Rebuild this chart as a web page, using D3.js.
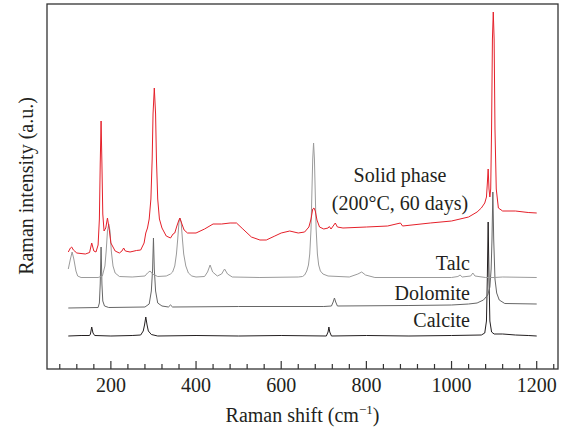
<!DOCTYPE html>
<html>
<head>
<meta charset="utf-8">
<script src="https://cdn.jsdelivr.net/npm/d3@7"></script>
<style>
body { margin: 0; background: #fff; }
text { font-family: "Liberation Serif", "DejaVu Serif", serif; fill: #231f20; }
</style>
</head>
<body>
<svg id="chart" width="564" height="430"></svg>
<script>
// spectra: [Raman shift, stacked intensity (a.u.)]
var calcite = [[100,33],[130,33.5],[150,33.5],[152,35],[155,42],[158,36],[162,33.5],[200,33],[250,33.5],[270,34],[276,38],[279,44],[282,52],[285,44],[288,38],[295,34.5],[310,33],[400,33.5],[500,33],[600,33.5],[706,33],[710,37],[712,42],[714,37],[718,33],[800,33.5],[900,33],[1000,33.5],[1070,34],[1078,36],[1082,48],[1084,90],[1086,147],[1088,90],[1090,48],[1094,37],[1100,35],[1120,35],[1150,34],[1180,33.5],[1200,33]];

var dolomite = [[100,61],[170,61.5],[173,66],[175,85],[177,122],[179,85],[181,68],[185,63],[195,61.5],[280,62],[290,65],[295,78],[298,100],[300,131],[302,100],[305,78],[310,66],[320,63],[335,62],[340,64],[345,62],[500,62.5],[700,62.5],[718,63],[722,67],[725,71],[728,67],[732,63],[900,63.5],[1000,64],[1040,65],[1060,66],[1075,69],[1085,74],[1090,82],[1093,100],[1095,130],[1097,177],[1099,130],[1102,90],[1106,76],[1112,69],[1125,65.5],[1200,65]];

var talc = [[100,100],[105,110],[109,117],[113,110],[118,98],[122,93],[130,91.5],[170,91.5],[180,93],[186,103],[189,118],[192,138],[195,145],[198,138],[201,118],[205,103],[210,96],[220,92.5],[250,92],[280,93],[286,96],[292,98],[298,95],[310,92.5],[330,93],[340,95],[345,97],[350,103],[354,115],[357,130],[360,147],[362,151],[365,147],[368,130],[371,115],[376,103],[382,96],[390,93],[400,92],[420,92.5],[427,97],[433,104],[439,97],[450,93],[460,95],[467,100],[474,95],[485,92],[550,91.5],[640,92],[650,92.5],[655,94],[660,98],[664,104],[667,115],[670,140],[672,175],[674,210],[676,226],[678,210],[680,175],[682,140],[685,115],[688,104],[692,98],[698,95],[710,93],[760,92],[780,95],[789,97],[798,94],[820,91.5],[1000,91.5],[1015,92.5],[1020,94],[1025,92],[1045,93],[1050,96],[1055,93],[1080,91.5],[1100,91.5],[1120,92],[1200,91.5]];

var solid = [[100,117],[105,121],[108,122],[112,119],[120,116],[140,115],[150,116.5],[155,126],[160,118],[165,117],[170,124],[173,150],[175,205],[177,248],[179,205],[181,155],[184,138],[188,141],[192,151],[196,140],[200,126],[210,118],[220,116],[226,118],[230,121],[234,118],[245,117],[260,118.5],[270,119],[278,126],[282,136],[286,141],[290,150],[294,170],[297,210],[299,255],[302,281],[305,255],[307,210],[310,170],[314,150],[320,141],[330,133],[340,131],[346,135],[350,136],[355,143],[359,148],[362,151],[366,146],[372,139],[380,136],[400,136],[420,140],[440,145],[460,145],[480,146],[495,146],[510,140],[530,132],[550,129],[565,129],[585,133],[600,136],[620,138],[640,136],[655,137],[665,142],[670,150],[674,160],[677,161],[680,158],[684,149],[690,142],[700,140],[710,141],[713,142.5],[717,140],[722,143],[727,146],[732,142],[745,141],[800,142],[850,143],[880,146],[885,143],[950,146],[1000,148],[1040,152],[1060,157],[1070,161],[1078,166],[1082,172],[1084,185],[1086,200],[1088,180],[1090,172],[1092,180],[1094,240],[1096,330],[1098,357],[1100,330],[1102,240],[1105,180],[1110,161],[1120,158],[1150,158],[1180,156.5],[1200,156]];

var seriesNames = ["Calcite", "Dolomite", "Talc", "Solid phase"];
var seriesColors = ["#231f20", "#666666", "#9b9b9b", "#e5202a"];
var xTicksMajor = [200, 400, 600, 800, 1000, 1200];

var svg = d3.select("#chart");
var mLeft = 47, mRight = 558, mTop = 4, mBottom = 369;

var x = d3.scaleLinear().domain([50, 1250]).range([mLeft, mRight]);
var y = d3.scaleLinear().domain([0, 365]).range([mBottom, mTop]);

var line = d3.line()
    .x(function(d){return x(d[0])})
    .y(function(d){return y(d[1])});

// spectra
var allSeries = [calcite, dolomite, talc, solid];
svg.append("g").selectAll("path").data(allSeries).enter()
    .append("path")
    .attr("d", line)
    .attr("fill", "none")
    .attr("stroke", function(b, i){return seriesColors[i]})
    .attr("stroke-width", 1);

// frame
svg.append("rect")
    .attr("x", mLeft).attr("y", mTop)
    .attr("width", mRight - mLeft).attr("height", mBottom - mTop)
    .attr("fill", "none")
    .attr("stroke", "#333")
    .attr("stroke-width", 1.3);

// ticks inside bottom axis
var minor = d3.range(80, 1250, 40);
svg.append("g").selectAll("line").data(minor).enter()
    .append("line")
    .attr("x1", function(d){return x(d)})
    .attr("x2", function(d){return x(d)})
    .attr("y1", mBottom)
    .attr("y2", function(d){return d % 200 == 0 ? mBottom - 8 : mBottom - 5})
    .attr("stroke", "#333")
    .attr("stroke-width", 1.2);

svg.append("g").selectAll("text").data(xTicksMajor).enter()
    .append("text")
    .attr("x", function(d){return x(d)})
    .attr("y", 392)
    .attr("text-anchor", "middle")
    .attr("font-size", 20)
    .text(function(d){return d});

// axis titles
var xt = svg.append("text")
    .attr("x", (mLeft + mRight) / 2)
    .attr("y", 422)
    .attr("text-anchor", "middle")
    .attr("font-size", 20);
xt.append("tspan").text("Raman shift (cm");
xt.append("tspan").attr("dy", -8).attr("font-size", 13).text("\u22121");
xt.append("tspan").attr("dy", 8).text(")");

svg.append("text")
    .attr("transform", "translate(33,186) rotate(-90)")
    .attr("text-anchor", "middle")
    .attr("font-size", 20)
    .text("Raman intensity (a.u.)");

// series labels
svg.append("text").attr("x", 400).attr("y", 182).attr("text-anchor", "middle")
    .attr("font-size", 20).text("Solid phase");
svg.append("text").attr("x", 400).attr("y", 210).attr("text-anchor", "middle")
    .attr("font-size", 20).text("(200\u00b0C, 60 days)");
var labelY = [327, 300, 270];
svg.append("g").selectAll("text").data(seriesNames.slice(0, 3)).enter()
    .append("text")
    .attr("x", 470)
    .attr("y", function(b, i){return labelY[i]})
    .attr("text-anchor", "end")
    .attr("font-size", 20)
    .text(function(b){return b});
</script>
</body>
</html>
